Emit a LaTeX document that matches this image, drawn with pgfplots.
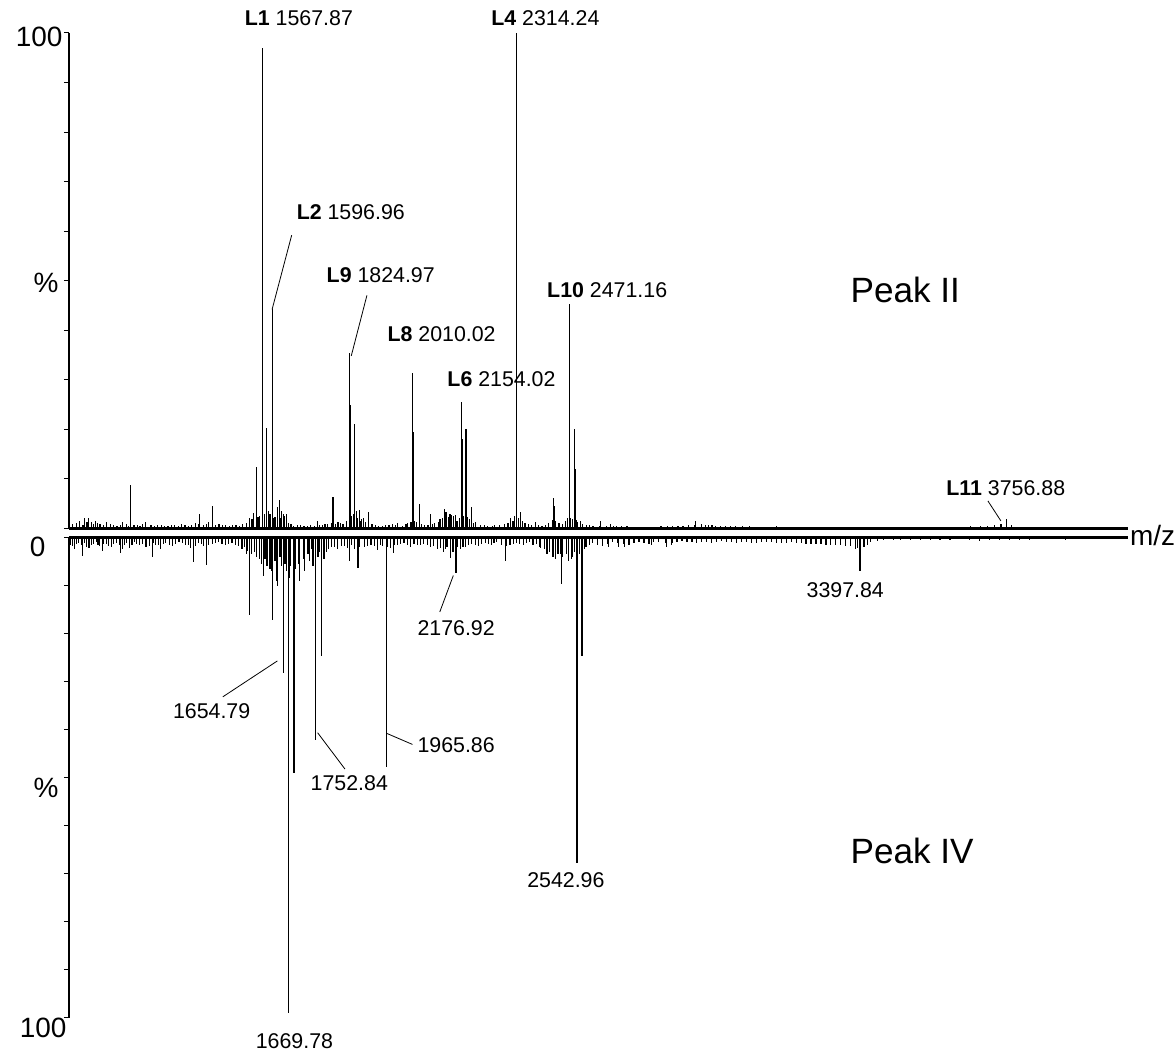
\documentclass[border=0pt]{standalone}
\usepackage{fontspec}
\setmainfont{Liberation Sans}
\usepackage{pgfplots}
\pgfplotsset{compat=1.18}

% upper spectrum (Peak II): m/z, relative intensity
\newcommand{\upperpeaks}{
(1179.6,8.8) (1383.0,2.9) (1422.1,4.6) (1541.5,3.1) (1549.4,12.4)
(1567.87,97) (1568.9,73) (1579.7,20.2) (1596.96,44.3) (1597.9,30)
(1611.1,4.4) (1617.8,5.8) (1630.4,2.9) (1637.5,2.9) (1730.2,1.4)
(1775.4,6.3) (1824.97,35.4) (1825.9,25) (1838.8,21) (1844.7,3.6)
(1852.6,3.8) (1879.0,3.3) (1965.0,1.0) (2010.02,31.4) (2011.0,19.5)
(2030.8,4.9) (2061.0,2.8) (2104.2,4.0) (2108.0,3.3) (2119.7,3.0)
(2122.7,2.6) (2154.02,25.5) (2155.0,18) (2166.7,20) (2183.4,4.4)
(2250.9,0.7) (2297.8,2.0) (2314.24,100) (2315.2,75.6) (2316.2,66)
(2327.2,3.3) (2371.2,1.3) (2424.9,6.1) (2426.0,4.5) (2471.16,45.3)
(2472.1,33.6) (2486.6,20) (2487.6,12) (2503.3,1.4) (2562.9,1.4)
(2592.2,0.8) (2840.8,1.4) (3756.88,1.8)}

\newcommand{\uppernoise}{
(1010,0.8) (1030,1.5) (1045,2.0) (1057,2.0) (1065,1.2) (1077,1.4)
(1090,0.9) (1109,1.2) (1130,0.6) (1150,0.7) (1157,1.2) (1175,0.5)
(1200,0.6) (1215,0.8) (1225,1.2) (1250,0.4) (1270,0.7) (1290,0.5)
(1310,0.6) (1330,0.8) (1350,0.5) (1370,1.0) (1395,0.7) (1410,1.2)
(1440,0.8) (1460,0.6) (1480,0.7) (1500,0.5) (1520,1.0) (1530,2.1)
(1560,2.5) (1575,3.0) (1590,2.8) (1605,2.2) (1620,2.0) (1625,3.5)
(1645,1.0) (1660,0.5) (1680,0.6) (1700,0.4) (1720,0.5) (1745,0.7)
(1760,0.9) (1790,1.2) (1805,0.9) (1815,1.5) (1830,2.5) (1860,1.8)
(1870,1.2) (1890,0.8) (1910,0.5) (1930,0.6) (1950,0.8) (1980,0.5)
(1995,1.0) (2020,1.3) (2045,0.6) (2075,1.0) (2090,1.8) (2115,2.2)
(2130,2.4) (2140,1.5) (2170,2.2) (2195,1.2) (2210,0.7) (2230,0.5)
(2265,0.6) (2280,0.8) (2305,1.5) (2320,2.0) (2340,1.0) (2360,0.6)
(2390,0.5) (2410,1.1) (2430,1.4) (2450,0.9) (2460,1.5) (2480,1.8)
(2495,1.2) (2520,0.6) (2540,0.5) (2580,0.4) (2610,0.5) (2640,0.4)
(2680,0.3) (2720,0.3) (2760,0.4) (2790,0.5) (2820,0.6) (2860,0.8)
(2880,0.6) (2900,0.5) (2930,0.5) (2960,0.4) (3000,0.4) (3040,0.3)
(3080,0.4) (3120,0.3) (3160,0.3) (3200,0.3) (3250,0.2) (3300,0.3)
(3400,0.2) (3500,0.2) (3600,0.3) (3650,0.4) (3680,0.5) (3700,0.5)
(3720,0.6) (3740,0.8) (3770,0.6) (3800,0.3) (3850,0.2) (3950,0.2)
(4020,0.2)}

\newcommand{\uppernoiseb}{
(1020,1.0) (1040,0.7) (1052,1.3) (1070,0.9) (1083,1.1) (1100,0.6)
(1120,0.9) (1140,0.5) (1167,0.8) (1190,0.6) (1208,0.5) (1240,0.7)
(1260,0.6) (1280,0.5) (1300,0.7) (1320,0.5) (1340,0.6) (1360,0.7)
(1380,0.8) (1403,0.9) (1430,0.6) (1450,0.7) (1470,0.5) (1490,0.6)
(1510,0.8) (1537,1.8) (1555,2.2) (1585,3.5) (1600,2.0) (1633,2.5)
(1652,0.8) (1670,0.6) (1690,0.5) (1710,0.6) (1735,0.6) (1752,0.8)
(1770,1.0) (1782,0.9) (1798,1.0) (1835,3.0) (1848,2.0) (1857,1.5)
(1865,2.0) (1880,1.0) (1900,0.6) (1920,0.5) (1940,0.7) (1960,0.6)
(1990,0.8) (2005,1.2) (2015,1.5) (2035,0.8) (2055,0.7) (2068,0.9)
(2085,1.2) (2098,2.0) (2125,2.0) (2135,2.6) (2148,2.0) (2160,2.5)
(2178,1.8) (2188,1.0) (2220,0.6) (2245,0.5) (2290,1.0) (2310,2.5)
(2333,1.5) (2350,0.8) (2380,0.6) (2400,0.7) (2420,1.6) (2440,1.0)
(2465,2.0) (2475,2.0) (2490,1.6) (2510,0.8) (2530,0.6) (2560,0.5)
(2600,0.4) (2625,0.4) (2660,0.3) (2700,0.3) (2740,0.4) (2775,0.4)
(2805,0.5) (2840,0.6) (2870,0.7) (2890,0.6) (2915,0.5) (2945,0.4)
(2980,0.4)}

% lower spectrum (Peak IV)
\newcommand{\lowerpeaks}{
(1048.3,3.9) (1109.5,2.9) (1162.9,3.3) (1259.4,4.1) (1384.9,5.1)
(1422.3,5.7) (1542.9,3.5) (1552.8,16.2) (1608.0,6.0) (1623.1,17.3)
(1638.2,10.2) (1654.79,28.3) (1669.78,99) (1687.7,49) (1752.84,42.1)
(1770.9,24.6) (1854.4,5.0) (1880.7,6.4) (1965.86,47.7) (1988.0,3.2)
(2161.1,4.2) (2176.92,7.5) (2327.0,5.0) (2432.5,2.3) (2495.9,9.8)
(2542.96,67.8) (2558.0,24.6) (2638.5,2.0) (2668.6,2.0) (2686.7,2.0)
(2768.2,1.5) (2813.4,2.0) (2828.5,1.5) (3397.84,6.9)}

\newcommand{\lowernoise}{
(1012,1.5) (1025,2.5) (1035,1.2) (1060,2.0) (1075,1.5) (1090,1.0)
(1100,1.8) (1120,1.3) (1135,2.0) (1150,1.2) (1175,1.5) (1190,2.2)
(1205,1.0) (1220,1.6) (1240,2.0) (1270,1.5) (1285,2.4) (1300,1.2)
(1320,1.8) (1340,1.0) (1360,1.6) (1375,2.2) (1400,1.2) (1415,1.8)
(1440,1.4) (1460,1.0) (1480,1.5) (1500,1.2) (1520,1.7) (1530,2.5)
(1560,3.5) (1575,4.0) (1590,5.5) (1600,4.5) (1615,6.5) (1630,5.0)
(1645,4.0) (1660,5.5) (1678,6.0) (1700,5.5) (1715,4.5) (1730,3.5)
(1740,2.5) (1760,4.0) (1785,3.0) (1800,2.0) (1820,2.4) (1840,1.8)
(1870,2.5) (1900,2.0) (1920,1.5) (1940,2.6) (1955,1.8) (1980,2.2)
(2000,1.5) (2020,1.2) (2040,2.0) (2060,1.6) (2080,1.4) (2100,2.0)
(2120,2.5) (2140,3.0) (2150,2.0) (2190,2.5) (2205,2.0) (2225,1.4)
(2245,1.8) (2265,1.2) (2285,1.5) (2300,1.0) (2340,1.6) (2360,1.2)
(2380,1.5) (2400,1.0) (2420,1.4) (2445,2.5) (2460,3.0) (2470,4.0)
(2485,3.5) (2510,3.5) (2525,4.5) (2535,3.0) (2570,2.0) (2590,1.2)
(2620,1.8) (2650,1.0) (2700,1.5) (2730,1.0) (2760,1.3) (2790,1.0)
(2830,1.2) (2860,0.8) (2890,1.0) (2920,0.9) (2950,1.2) (2980,0.8)
(3010,1.0) (3040,0.9) (3070,1.1) (3100,0.9) (3130,1.0) (3160,1.1)
(3190,1.0) (3220,1.2) (3250,1.3) (3280,1.4) (3310,1.5) (3340,1.6)
(3370,1.8) (3385,2.5) (3410,2.0) (3430,1.0) (3470,0.5) (3520,0.6)
(3580,0.5) (3640,0.6) (3700,0.4) (3760,0.7) (3820,0.5) (3880,0.6)
(3950,0.4) (4020,0.5) (4080,0.3)}

\newcommand{\lowernoiseb}{
(1018,1.8) (1030,1.4) (1045,1.6) (1055,1.2) (1068,2.2) (1082,1.3)
(1095,1.6) (1110,1.4) (1128,1.7) (1142,1.3) (1160,1.5) (1168,2.4)
(1182,1.2) (1198,1.6) (1212,1.4) (1230,1.3) (1250,1.7) (1262,1.2)
(1278,1.5) (1292,1.3) (1310,1.6) (1330,1.4) (1350,1.2) (1368,1.5)
(1390,1.8) (1408,1.3) (1428,1.6) (1450,1.2) (1470,1.4) (1490,1.3)
(1510,1.5) (1538,2.0) (1548,2.8) (1568,3.0) (1583,4.5) (1595,8.0)
(1605,6.0) (1620,7.0) (1635,9.0) (1650,6.0) (1665,7.0) (1675,8.5)
(1692,6.5) (1705,9.0) (1720,7.0) (1735,5.0) (1745,6.0) (1765,3.0)
(1778,4.5) (1792,2.5) (1810,2.0) (1830,1.8) (1850,2.2) (1860,1.6)
(1885,2.0) (1910,1.7) (1930,1.9) (1948,1.5) (1970,2.0) (1992,1.5)
(2010,1.4) (2030,1.6) (2050,1.3) (2070,1.6) (2090,1.5) (2110,1.8)
(2130,2.2) (2145,2.5) (2168,3.0) (2182,2.0) (2198,2.0) (2215,1.5)
(2235,1.6) (2255,1.3) (2275,1.4) (2292,1.2) (2315,1.5) (2330,1.8)
(2350,1.3) (2370,1.4) (2390,1.2) (2410,1.6) (2430,2.0) (2452,3.5)
(2478,4.5) (2492,3.5) (2500,4.0) (2518,5.0) (2530,4.0) (2550,3.5)
(2565,2.5) (2580,1.5) (2605,1.6) (2635,1.4) (2665,1.2) (2685,1.3)
(2715,1.1) (2745,1.2) (2775,1.0) (2810,1.1) (2845,0.9) (2875,1.0)
(2905,1.1) (2935,0.9) (2965,1.0) (2995,0.9) (3025,1.1) (3055,1.0)
(3085,1.2) (3115,1.0) (3145,1.1) (3175,1.2) (3205,1.1) (3235,1.3)
(3265,1.4) (3295,1.5) (3325,1.6) (3355,1.7) (3390,2.2) (3420,1.5)
(3450,0.8) (3500,0.5) (3550,0.6) (3610,0.5) (3670,0.5) (3730,0.6)
(3790,0.5) (3850,0.6) (3910,0.5) (3980,0.4) (4050,0.4)}

\pgfplotsset{
  spec/.style={
    scale only axis, width=530.5pt,
    ymin=0, ymax=100,
    xtick=\empty,
    ytick={0,10,...,100}, yticklabels={},
    tick align=outside, major tick length=2.5pt,
    y axis line style={line width=1pt},
    x axis line style={line width=1.6pt},
    every tick/.style={black, line width=0.5pt},
  },
}

\begin{document}
\begin{tikzpicture}
\begin{scope}[x=0.5pt,y=0.5pt]
\useasboundingbox (0,0) rectangle (1175,1055);
\end{scope}

\begin{axis}[spec, at={(34.5pt,262.75pt)}, anchor=south west, height=248.25pt,
  xmin=998.5, xmax=4112.5, axis x line*=bottom, axis y line*=left]
\addplot[ycomb, black, line width=0.6pt] coordinates {\uppernoise};
\addplot[ycomb, black, line width=0.6pt] coordinates {\uppernoiseb};
\addplot[ycomb, black, line width=0.6pt] coordinates {\upperpeaks};
\end{axis}

\begin{axis}[spec, at={(34.5pt,258.25pt)}, anchor=north west, height=240.75pt,
  y dir=reverse, xmin=1007, xmax=4206.7, axis x line*=middle, axis y line*=left]
\addplot[ycomb, black, line width=0.6pt] coordinates {\lowernoise};
\addplot[ycomb, black, line width=0.6pt] coordinates {\lowernoiseb};
\addplot[ycomb, black, line width=0.6pt] coordinates {\lowerpeaks};
\end{axis}

\begin{scope}[x=0.5pt,y=0.5pt]
\tikzset{lab/.style={anchor=west, inner sep=0pt, font=\fontsize{10.7}{12}\selectfont},
         big/.style={inner sep=0pt, font=\fontsize{14}{16}\selectfont}}
% axis labels
\node[big, anchor=east] at (63,1018) {100};
\node[big, anchor=east] at (59,772) {\%};
\node[big, anchor=east] at (46,507) {0};
\node[big, anchor=east] at (59,265) {\%};
\node[big, anchor=east] at (67,25) {100};
\node[big, anchor=west] at (1132,518) {m/z};
\node[anchor=west, inner sep=0pt, font=\fontsize{17.6}{20}\selectfont] at (852,764) {Peak II};
\node[anchor=west, inner sep=0pt, font=\fontsize{17.6}{20}\selectfont] at (852,202) {Peak IV};

% peak labels, upper
\node[lab] at (245,1037) {\textbf{L1} 1567.87};
\node[lab] at (297,842) {\textbf{L2} 1596.96};
\node[lab] at (327,779) {\textbf{L9} 1824.97};
\node[lab] at (388,720) {\textbf{L8} 2010.02};
\node[lab] at (448,675) {\textbf{L6} 2154.02};
\node[lab] at (492,1037) {\textbf{L4} 2314.24};
\node[lab] at (548,764) {\textbf{L10} 2471.16};
\node[lab] at (948,566) {\textbf{L11} 3756.88};
\draw[line width=0.4pt] (292.3,819.3) -- (272.7,745);
\draw[line width=0.4pt] (367.7,759) -- (352,698.3);
\draw[line width=0.4pt] (990,553) -- (1003,533);

% peak labels, lower
\node[lab] at (808,464) {3397.84};
\node[lab] at (418,426) {2176.92};
\node[lab] at (173,342) {1654.79};
\node[lab] at (311,270) {1752.84};
\node[lab] at (418,308) {1965.86};
\node[lab] at (528,173) {2542.96};
\node[lab] at (256,12) {1669.78};
\draw[line width=0.4pt] (440.7,441.7) -- (454.3,478.3);
\draw[line width=0.4pt] (223.3,356.7) -- (278,392.7);
\draw[line width=0.4pt] (345.7,284.3) -- (318.3,320.7);
\draw[line width=0.4pt] (413.3,309) -- (387.7,320);
\end{scope}
\end{tikzpicture}
\end{document}
